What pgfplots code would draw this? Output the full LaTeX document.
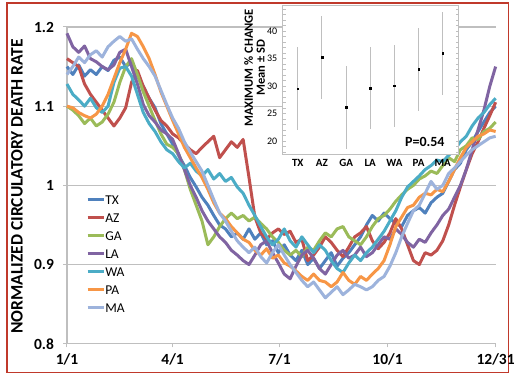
\documentclass[border=0pt]{standalone}
\usepackage{pgfplots}
\usepackage{pgfplotstable}
\pgfplotsset{compat=1.18}
\usepackage{fontspec}
\setmainfont{Carlito}
\definecolor{cTX}{HTML}{4F81BD}
\definecolor{cAZ}{HTML}{C0504D}
\definecolor{cGA}{HTML}{9BBB59}
\definecolor{cLA}{HTML}{8064A2}
\definecolor{cWA}{HTML}{4BACC6}
\definecolor{cPA}{HTML}{F79646}
\definecolor{cMA}{HTML}{9DB3DC}
\definecolor{gridc}{HTML}{BFBFBF}
\definecolor{frame}{HTML}{C0392B}
\pgfplotstableread{
day TX AZ GA LA WA PA MA
0 1.150 1.160 1.100 1.192 1.128 1.100 1.140
5 1.140 1.155 1.095 1.175 1.115 1.098 1.150
10 1.152 1.150 1.088 1.168 1.108 1.092 1.162
15 1.138 1.128 1.078 1.176 1.100 1.088 1.155
20 1.146 1.115 1.085 1.160 1.110 1.085 1.165
25 1.140 1.105 1.075 1.156 1.098 1.090 1.170
30 1.150 1.095 1.080 1.150 1.092 1.100 1.162
35 1.145 1.085 1.090 1.146 1.100 1.115 1.175
40 1.158 1.075 1.105 1.152 1.130 1.135 1.182
45 1.162 1.085 1.130 1.168 1.148 1.155 1.188
50 1.150 1.098 1.150 1.172 1.150 1.172 1.182
55 1.155 1.130 1.160 1.150 1.138 1.192 1.185
60 1.138 1.145 1.140 1.128 1.115 1.188 1.172
65 1.125 1.125 1.118 1.102 1.092 1.175 1.160
70 1.110 1.110 1.100 1.088 1.078 1.160 1.150
75 1.098 1.095 1.082 1.080 1.068 1.140 1.138
80 1.078 1.082 1.065 1.070 1.055 1.118 1.120
85 1.065 1.075 1.052 1.065 1.045 1.100 1.102
90 1.052 1.065 1.048 1.058 1.040 1.082 1.085
95 1.038 1.060 1.040 1.040 1.030 1.065 1.072
100 1.025 1.052 1.020 1.020 1.022 1.048 1.055
105 1.010 1.045 0.995 1.000 1.028 1.035 1.042
110 0.998 1.040 0.975 0.985 1.018 1.022 1.030
115 0.985 1.048 0.955 0.968 1.012 1.010 1.018
120 0.975 1.055 0.925 0.955 1.020 0.995 1.000
125 0.962 1.062 0.935 0.945 1.008 0.978 0.982
130 0.950 1.035 0.948 0.935 1.015 0.965 0.965
135 0.945 1.045 0.958 0.928 1.005 0.958 0.955
140 0.935 1.055 0.965 0.918 1.010 0.948 0.942
145 0.940 1.048 0.958 0.912 0.998 0.940 0.930
150 0.932 1.058 0.962 0.905 0.990 0.932 0.922
155 0.945 1.010 0.955 0.900 0.975 0.928 0.915
160 0.932 0.960 0.960 0.912 0.962 0.918 0.922
165 0.940 0.940 0.952 0.925 0.948 0.912 0.910
170 0.925 0.932 0.945 0.930 0.935 0.920 0.902
175 0.930 0.940 0.935 0.915 0.925 0.908 0.915
180 0.915 0.945 0.928 0.902 0.932 0.912 0.925
185 0.925 0.938 0.918 0.888 0.945 0.902 0.912
190 0.912 0.942 0.912 0.882 0.930 0.898 0.900
195 0.905 0.928 0.918 0.898 0.922 0.892 0.890
200 0.918 0.932 0.910 0.912 0.935 0.885 0.880
205 0.900 0.905 0.922 0.918 0.925 0.880 0.872
210 0.908 0.912 0.918 0.908 0.915 0.888 0.878
215 0.895 0.922 0.930 0.895 0.925 0.880 0.868
220 0.905 0.935 0.940 0.888 0.918 0.878 0.858
225 0.915 0.928 0.935 0.900 0.905 0.872 0.865
230 0.898 0.918 0.945 0.912 0.895 0.878 0.872
235 0.908 0.910 0.948 0.918 0.890 0.890 0.862
240 0.915 0.922 0.935 0.908 0.902 0.880 0.868
245 0.925 0.935 0.930 0.912 0.912 0.875 0.875
250 0.935 0.940 0.925 0.922 0.905 0.885 0.872
255 0.950 0.948 0.935 0.910 0.915 0.880 0.868
260 0.962 0.930 0.948 0.915 0.922 0.888 0.872
265 0.955 0.920 0.958 0.925 0.932 0.895 0.880
270 0.965 0.928 0.962 0.935 0.942 0.905 0.885
275 0.958 0.940 0.970 0.932 0.955 0.925 0.898
280 0.952 0.958 0.980 0.945 0.968 0.948 0.915
285 0.948 0.945 0.988 0.938 0.985 0.960 0.935
290 0.962 0.925 0.995 0.928 0.998 0.972 0.952
295 0.968 0.905 1.000 0.922 1.005 0.975 0.968
300 0.972 0.900 1.008 0.932 1.012 0.985 0.975
305 0.965 0.915 1.012 0.928 1.020 0.990 0.990
310 0.978 0.912 1.018 0.940 1.025 0.988 1.005
315 0.985 0.918 1.015 0.950 1.032 0.995 0.995
320 0.990 0.930 1.025 0.962 1.030 0.992 1.000
325 1.005 0.950 1.035 0.970 1.038 1.005 1.015
330 1.020 0.975 1.030 0.985 1.045 1.020 1.022
335 1.028 0.998 1.045 1.000 1.055 1.035 1.030
340 1.045 1.020 1.050 1.020 1.062 1.048 1.038
345 1.055 1.040 1.060 1.045 1.075 1.055 1.045
350 1.068 1.055 1.058 1.070 1.085 1.062 1.050
355 1.080 1.072 1.068 1.095 1.092 1.065 1.055
360 1.092 1.088 1.072 1.125 1.102 1.070 1.060
365 1.100 1.105 1.080 1.150 1.110 1.068 1.062
}\rates
\begin{document}
\begin{tikzpicture}[x=1pt,y=1pt]
\fill[white] (0,0) rectangle (518,376);
\draw[frame, line width=1.3pt] (7,3) rectangle (509,373);
\begin{axis}[
  at={(67pt,32pt)}, anchor=south west,
  width=429pt, height=317pt, scale only axis,
  xmin=0, xmax=365, ymin=0.8, ymax=1.2,
  clip=false,
  axis x line*=bottom, axis y line*=left,
  axis line style={draw=gridc, line width=1.2pt, -},
  xtick={0,90,181,273,365}, xticklabels={1/1,4/1,7/1,10/1,12/31},
  ytick={0.8,0.9,1,1.1,1.2}, yticklabels={0.8,0.9,1,1.1,1.2},
  ymajorgrids, major grid style={draw=gridc, line width=1.2pt},
  tick align=outside, major tick length=3.5pt,
  tick style={draw=gridc, line width=1pt},
  tick label style={font=\fontsize{15.5}{18}\selectfont\bfseries},
  xticklabel style={yshift=-3pt},
  yticklabel style={xshift=-6pt},
  ylabel={NORMALIZED CIRCULATORY DEATH RATE},
  ylabel style={font=\fontsize{17.5}{20}\selectfont\bfseries, at={(axis description cs:-0.1166,0.497)}, anchor=center, rotate=0},
  legend style={at={(axis description cs:0.044,0.47)}, anchor=north west, draw=none, fill=none,
    font=\fontsize{13.5}{15}\selectfont, row sep=8.4pt, inner sep=0pt,
    nodes={inner sep=0.3pt, text height=9pt, text depth=0pt}},
  legend cell align=left,
  legend image code/.code={\draw[#1, line width=3pt] (0pt,0pt) -- (16pt,0pt);},
  every axis plot/.append style={line width=3pt, line join=round, mark=none},
]
\addplot[cTX] table[x=day,y=TX]{\rates}; \addlegendentry{TX}
\addplot[cAZ] table[x=day,y=AZ]{\rates}; \addlegendentry{AZ}
\addplot[cGA] table[x=day,y=GA]{\rates}; \addlegendentry{GA}
\addplot[cLA] table[x=day,y=LA]{\rates}; \addlegendentry{LA}
\addplot[cWA] table[x=day,y=WA]{\rates}; \addlegendentry{WA}
\addplot[cPA] table[x=day,y=PA]{\rates}; \addlegendentry{PA}
\addplot[cMA] table[x=day,y=MA]{\rates}; \addlegendentry{MA}
\end{axis}
\begin{axis}[
  at={(283pt,221pt)}, anchor=south west,
  width=176pt, height=150pt, scale only axis,
  axis background/.style={fill=white},
  /pgf/number format/assume math mode=true,
  xmin=-0.62, xmax=6.66, ymin=17.45, ymax=44.7,
  axis line style={draw=gridc, line width=0.8pt},
  xtick={0,...,6}, xticklabels={TX,AZ,GA,LA,WA,PA,MA},
  major x tick style={draw=none},
  xticklabel style={font=\fontsize{11}{12}\selectfont\bfseries, yshift=-1pt},
  ytick={20,25,30,35,40}, minor ytick={18,...,44},
  ytick pos=both, yticklabel pos=left,
  tick align=inside, major tick length=3pt, minor tick length=3pt,
  every tick/.style={draw=gridc, line width=0.6pt},
  yticklabel style={font=\fontsize{10}{12}\selectfont, xshift=-2pt},
  ylabel={MAXIMUM \% CHANGE\\Mean ± SD},
  ylabel style={font=\fontsize{12.5}{12}\selectfont\bfseries, align=center, at={(axis description cs:-0.16,0.58)}, anchor=center},
]
\addplot[only marks, mark=square*, mark size=0.8pt, black,
  error bars/.cd, y dir=both, y explicit,
  error bar style={draw=gridc, line width=1.1pt}, error mark=none]
  coordinates {
  (0,29.45) +- (0,7.55)
  (1,35.2) +- (0,7.55)
  (2,26.1) +- (0,7.6)
  (3,29.6) +- (0,7.5)
  (4,30.0) +- (0,7.5)
  (5,33.0) +- (0,7.5)
  (6,35.9) +- (0,7.5)
  };
\node[anchor=east, font=\fontsize{14}{16}\selectfont\bfseries] at (axis description cs:0.94,0.087) {P=0.54};
\end{axis}
\end{tikzpicture}
\end{document}
